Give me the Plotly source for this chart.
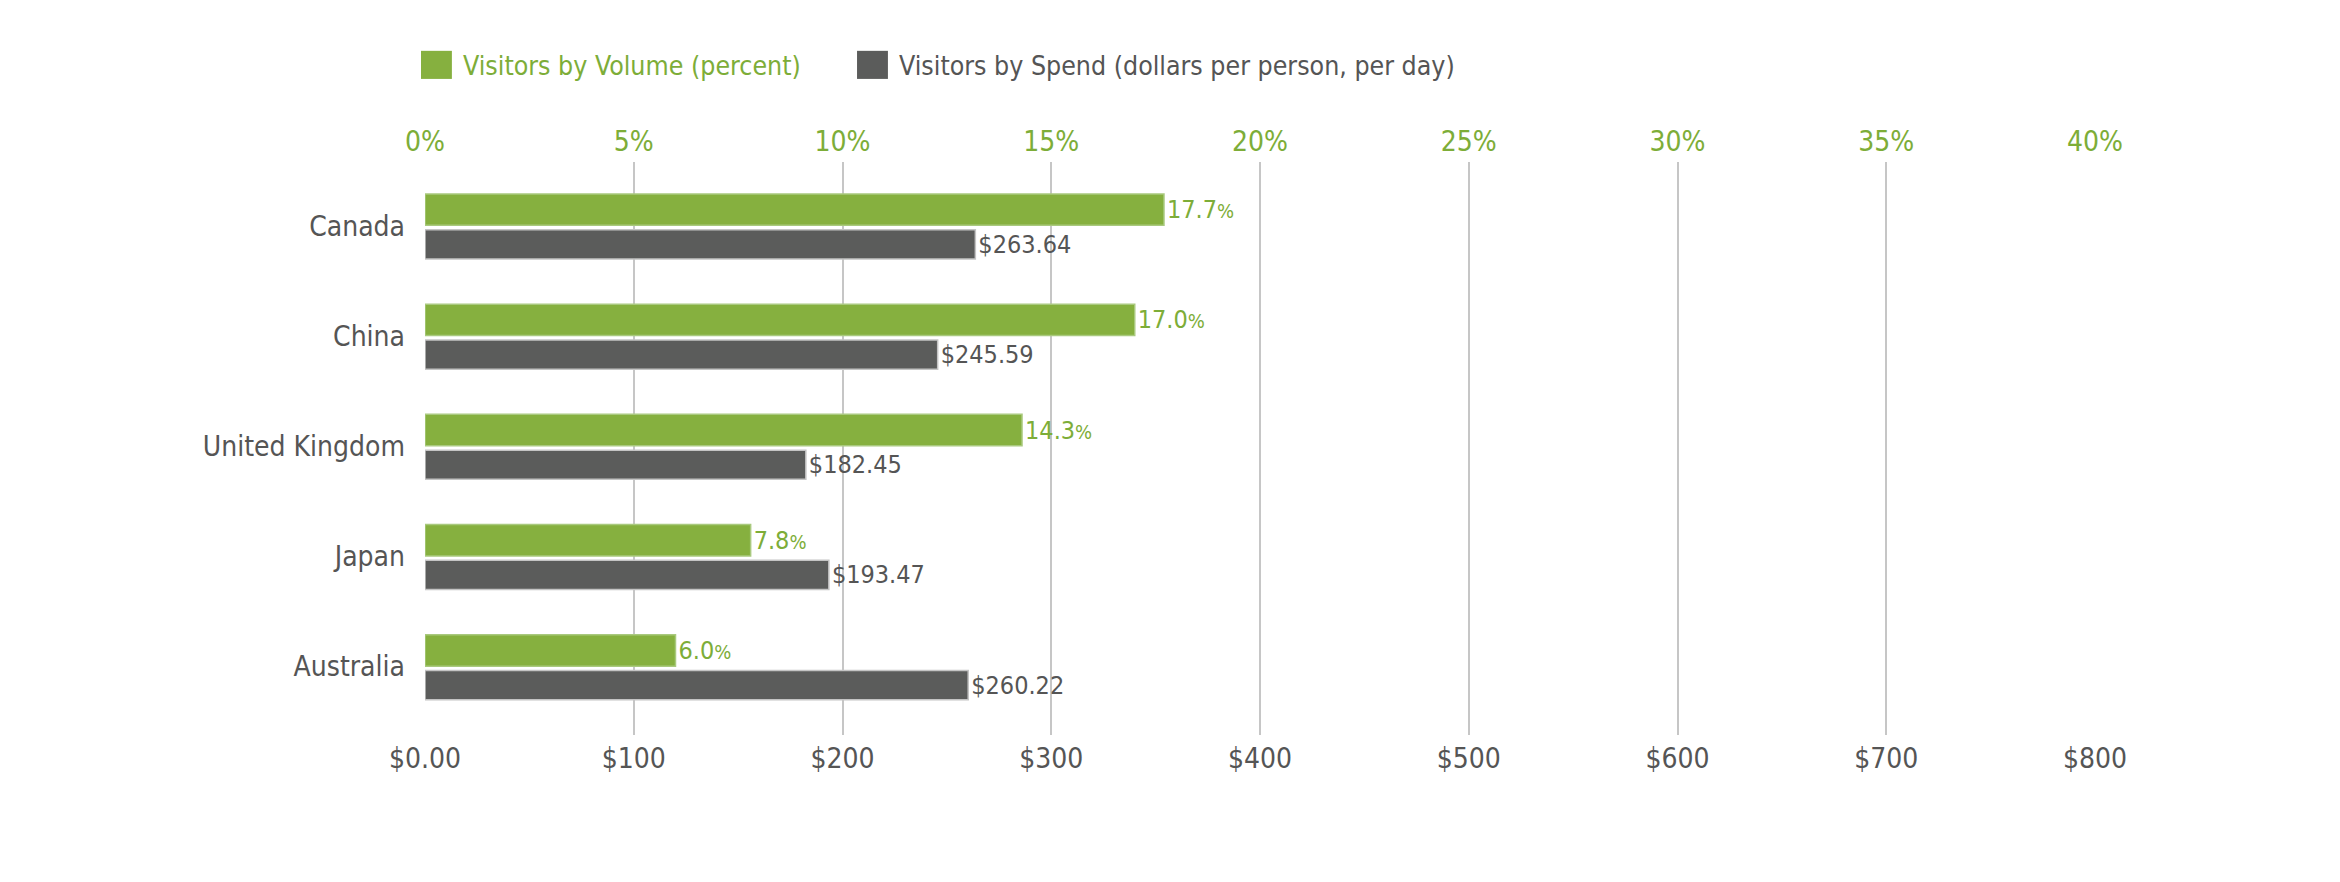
import plotly.graph_objects as go

countries = ["Canada", "China", "United Kingdom", "Japan", "Australia"]
volume_pct = [17.7, 17.0, 14.3, 7.8, 6.0]
spend_usd = [263.64, 245.59, 182.45, 193.47, 260.22]

pct_ticks = [0, 5, 10, 15, 20, 25, 30, 35, 40]
pct_labels = ["0%", "5%", "10%", "15%", "20%", "25%", "30%", "35%", "40%"]
usd_ticks = [0, 100, 200, 300, 400, 500, 600, 700, 800]
usd_labels = ["$0.00", "$100", "$200", "$300", "$400", "$500", "$600", "$700", "$800"]

volume_name = "Visitors by Volume (percent)"
spend_name = "Visitors by Spend (dollars per person, per day)"

GREEN = "#86b03f"
GREEN_TEXT = "#7dad38"
GRAY = "#5b5c5b"
GRAY_TEXT = "#555555"
FONT = "Liberation Sans Narrow, DejaVu Sans Condensed, Roboto, sans-serif"

fig = go.Figure()
# the two series live on different x axes, so place them side by side by hand
fig.add_trace(go.Bar(
    y=countries,
    x=volume_pct,
    orientation="h",
    xaxis="x2",
    name=volume_name,
    width=0.285,
    offset=-0.29,
    marker=dict(color=GREEN, line=dict(color="#a9c97e", width=1.5)),
    text=[f"{v:.1f}<span style='font-size:20px'>%</span>" for v in volume_pct],
    textposition="outside",
    textfont=dict(color=GREEN_TEXT, size=25, family=FONT),
    cliponaxis=False,
    showlegend=False,
))
fig.add_trace(go.Bar(
    y=countries,
    x=spend_usd,
    orientation="h",
    name=spend_name,
    width=0.265,
    offset=0.035,
    marker=dict(color=GRAY, line=dict(color="#c4c4c4", width=1.5)),
    text=[f"${v:.2f}" for v in spend_usd],
    textposition="outside",
    textfont=dict(color=GRAY_TEXT, size=25, family=FONT),
    cliponaxis=False,
    showlegend=False,
))

# legend drawn by hand: big square swatches with coloured labels
legend_items = [
    (volume_name, GREEN, GREEN_TEXT, -0.0024),
    (spend_name, GRAY, GRAY_TEXT, 0.2587),
]
for label, swatch, text_color, x0 in legend_items:
    fig.add_shape(type="rect", xref="paper", yref="paper",
                  x0=x0, x1=x0 + 0.0185, y0=1.145, y1=1.194,
                  fillcolor=swatch, line=dict(width=0))
    fig.add_annotation(xref="paper", yref="paper", x=x0 + 0.024, y=1.169,
                       xanchor="left", yanchor="middle", showarrow=False,
                       text=label, font=dict(size=26.5, color=text_color, family=FONT))

fig.update_layout(
    width=2340,
    height=882,
    margin=dict(l=417, r=253, t=154, b=155),
    paper_bgcolor="white",
    plot_bgcolor="white",
    font=dict(family=FONT, color=GRAY_TEXT, size=28),
    showlegend=False,
    xaxis=dict(
        range=[0, 800],
        tickvals=usd_ticks,
        ticktext=usd_labels,
        showgrid=True,
        gridcolor="#c6c6c6",
        gridwidth=1.5,
        zeroline=False,
        showline=False,
        ticks="",
        ticklabelstandoff=4,
        automargin=False,
        tickfont=dict(size=28, color=GRAY_TEXT),
    ),
    xaxis2=dict(
        range=[0, 40],
        overlaying="x",
        side="top",
        tickvals=pct_ticks,
        ticktext=pct_labels,
        showgrid=False,
        zeroline=False,
        showline=False,
        ticks="",
        ticklabelstandoff=4,
        automargin=False,
        tickfont=dict(size=28, color=GREEN_TEXT),
    ),
    yaxis=dict(
        categoryorder="array",
        categoryarray=countries,
        range=[4.62, -0.58],
        showgrid=False,
        zeroline=False,
        showline=False,
        ticks="",
        ticklabelstandoff=19,
        automargin=False,
        tickfont=dict(size=28, color=GRAY_TEXT),
    ),
)

fig.write_html("out.html")
